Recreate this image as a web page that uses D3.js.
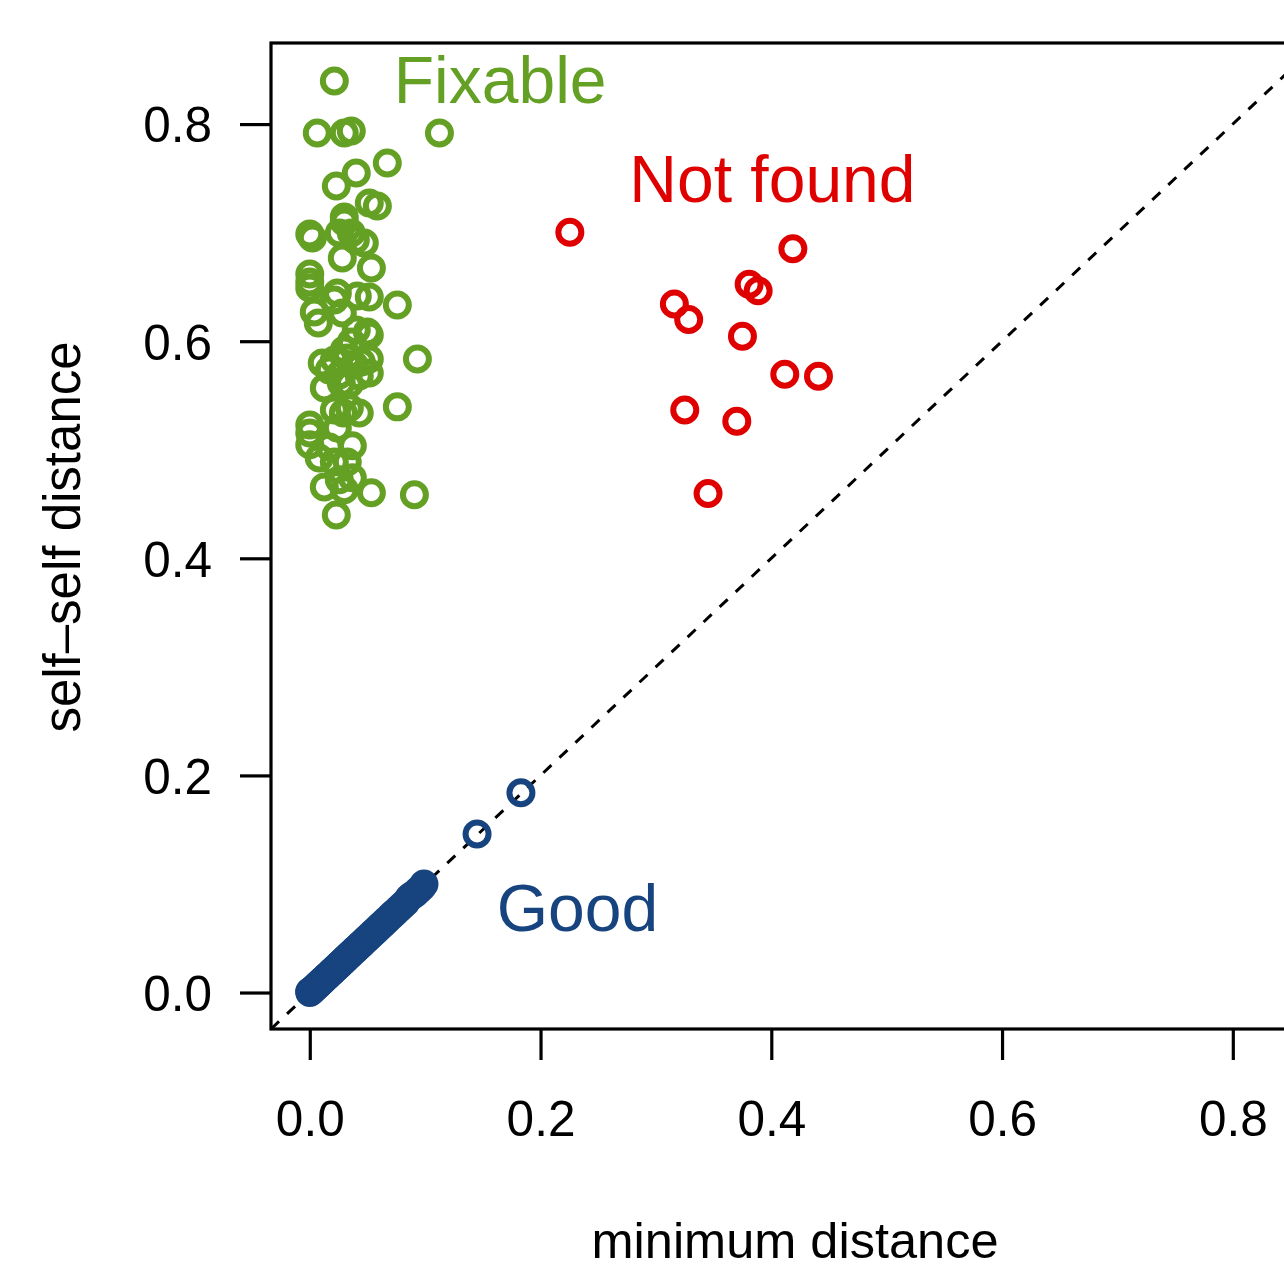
<!DOCTYPE html>
<meta charset="utf-8">
<head>
  <title>self-self vs minimum distance</title>
</head>
<style>
  body { margin: 0; background: #fff; }
  svg text { font-family: "Liberation Sans", Arial, sans-serif; fill: #000; }
</style>
<body>
  <svg width="1284" height="1272"></svg>

  <script src="https://cdnjs.cloudflare.com/ajax/libs/d3/7.8.5/d3.min.js"></script>
  <script>
    // data
    var fixableX = [0.0213, 0.0065, 0.0299, 0.0360, 0.1124, 0.0672, 0.0403, 0.0230, 0.0516, 0.0586,
      0.0299, 0.0000, 0.0022, 0.0299, 0.0256, 0.0360, 0.0473, 0.0395, 0.0282, 0.0534,
      0.0000, 0.0000, 0.0000, 0.0239, 0.0516, 0.0759, 0.0039, 0.0074, 0.0282, 0.0403,
      0.0499, 0.0360, 0.0516, 0.0933, 0.0108, 0.0213, 0.0325, 0.0516, 0.0256, 0.0516,
      0.0126, 0.0273, 0.0386, 0.0299, 0.0759, 0.0213, 0.0429, 0.0291, 0.0343, 0.0000,
      0.0000, 0.0000, 0.0239, 0.0369, 0.0213, 0.0325, 0.0126, 0.0256, 0.0369, 0.0534,
      0.0907, 0.0230, 0.0169, 0.0429, 0.0169, 0.0082, 0.0299, 0.0447, 0.0343, 0.0213,
      0.0412];
    var fixableY = [0.8396, 0.7917, 0.7917, 0.7936, 0.7917, 0.7641, 0.7549, 0.7429, 0.7273, 0.7245,
      0.7144, 0.6987, 0.6951, 0.7098, 0.6997, 0.6997, 0.6904, 0.6932, 0.6766, 0.6674,
      0.6619, 0.6545, 0.6490, 0.6444, 0.6407, 0.6334, 0.6269, 0.6168, 0.6260, 0.6104,
      0.6085, 0.5993, 0.6058, 0.5837, 0.5800, 0.5827, 0.5846, 0.5837, 0.5689, 0.5708,
      0.5570, 0.5616, 0.5781, 0.5919, 0.5395, 0.5367, 0.5339, 0.5339, 0.5386, 0.5229,
      0.5045, 0.5155, 0.5201, 0.5036, 0.4888, 0.4888, 0.4658, 0.4723, 0.4741, 0.4603,
      0.4585, 0.4400, 0.5735, 0.5680, 0.5026, 0.4925, 0.4631, 0.5809, 0.5606, 0.6380,
      0.6417];

    var notFoundX = [0.2254, 0.4187, 0.3808, 0.3886, 0.3160, 0.3284, 0.3750, 0.4117, 0.4409, 0.3250, 0.3701, 0.3452];
    var notFoundY = [0.7003, 0.6852, 0.6524, 0.6465, 0.6343, 0.6199, 0.6046, 0.5696, 0.5678, 0.5367, 0.5263, 0.4598];

    var goodX = [0.000, 0.000, 0.001, 0.002, 0.003, 0.004, 0.005, 0.006, 0.007, 0.008,
      0.009, 0.010, 0.011, 0.012, 0.014, 0.015, 0.016, 0.018, 0.019, 0.020,
      0.022, 0.023, 0.025, 0.026, 0.028, 0.029, 0.031, 0.032, 0.034, 0.035,
      0.037, 0.039, 0.040, 0.042, 0.044, 0.045, 0.047, 0.049, 0.051, 0.053,
      0.055, 0.057, 0.059, 0.061, 0.063, 0.065, 0.067, 0.070, 0.072, 0.074,
      0.077, 0.080, 0.083, 0.086, 0.088, 0.091, 0.094, 0.097, 0.099, 0.145, 0.183];
    var goodY = [0.000, 0.001, 0.001, 0.002, 0.003, 0.004, 0.005, 0.006, 0.007, 0.008,
      0.009, 0.010, 0.011, 0.012, 0.014, 0.015, 0.016, 0.018, 0.019, 0.020,
      0.022, 0.023, 0.025, 0.026, 0.028, 0.029, 0.031, 0.032, 0.034, 0.035,
      0.037, 0.039, 0.040, 0.042, 0.044, 0.045, 0.047, 0.049, 0.051, 0.053,
      0.055, 0.057, 0.059, 0.061, 0.063, 0.065, 0.067, 0.070, 0.072, 0.074,
      0.077, 0.080, 0.083, 0.087, 0.089, 0.091, 0.094, 0.097, 0.100, 0.146, 0.184];

    var tickValues = [0, 0.2, 0.4, 0.6, 0.8];
    var groupNames = ['Good', 'Fixable', 'Not found'];
    var groupColors = ['#17437f', '#63a024', '#df0000'];

    var svg = d3.select('svg');

    var x = d3.scaleLinear().domain([-0.0336, 0.8747]).range([271, 1319]);
    var y = d3.scaleLinear().domain([-0.0336, 0.8747]).range([1029, 43]);

    svg.append('clipPath').attr('id', 'plotclip')
      .append('rect')
      .attr('x', 271).attr('y', 43)
      .attr('width', 1319 - 271).attr('height', 1029 - 43);

    // y = x reference line
    svg.append('line')
      .attr('clip-path', 'url(#plotclip)')
      .attr('x1', x(-0.0336)).attr('y1', y(-0.0336))
      .attr('x2', x(0.8747)).attr('y2', y(0.8747))
      .attr('stroke', '#000')
      .attr('stroke-width', 3)
      .attr('stroke-dasharray', '11,11');

    function points(xs, ys, color) {
      var pts = xs.map(function(d, i) { return [d, ys[i]]; });
      svg.append('g')
        .selectAll('circle')
        .data(pts)
        .enter()
        .append('circle')
        .attr('cx', function(d) { return x(d[0]); })
        .attr('cy', function(d) { return y(d[1]); })
        .attr('r', 11.5)
        .attr('fill', 'none')
        .attr('stroke', color)
        .attr('stroke-width', 6);
    }

    points(goodX, goodY, groupColors[0]);
    points(fixableX, fixableY, groupColors[1]);
    points(notFoundX, notFoundY, groupColors[2]);

    // box
    svg.append('rect')
      .attr('x', 271).attr('y', 43)
      .attr('width', 1319 - 271).attr('height', 1029 - 43)
      .attr('fill', 'none')
      .attr('stroke', '#000')
      .attr('stroke-width', 3.2);

    var xAxis = svg.append('g')
      .attr('transform', 'translate(0,1029)')
      .call(d3.axisBottom(x).tickValues(tickValues).tickFormat(d3.format('.1f')).tickSize(31).tickPadding(41));
    var yAxis = svg.append('g')
      .attr('transform', 'translate(271,0)')
      .call(d3.axisLeft(y).tickValues(tickValues).tickFormat(d3.format('.1f')).tickSize(31).tickPadding(28));

    [xAxis, yAxis].forEach(function(a) {
      a.select('.domain').remove();
      a.selectAll('line').attr('stroke', '#000').attr('stroke-width', 3.2);
      a.selectAll('text')
        .attr('fill', '#000')
        .style('font-family', '"Liberation Sans", Arial, sans-serif')
        .style('font-size', '49.5px');
    });
    yAxis.selectAll('text').attr('dy', '0.36em');

    svg.append('text')
      .attr('x', 795).attr('y', 1258)
      .attr('text-anchor', 'middle')
      .style('font-size', '50.5px')
      .text('minimum distance');

    svg.append('text')
      .attr('transform', 'translate(80,537) rotate(-90)')
      .attr('text-anchor', 'middle')
      .style('font-size', '51px')
      .text('self\u2013self distance');

    // group labels
    var labelPos = [[0.232, 0.079], [0.165, 0.841], [0.401, 0.750]];
    groupNames.forEach(function(name, i) {
      svg.append('text')
        .attr('x', x(labelPos[i][0]))
        .attr('y', y(labelPos[i][1]))
        .attr('dy', '0.36em')
        .attr('text-anchor', 'middle')
        .style('font-size', '66px')
        .style('fill', groupColors[i])
        .text(name);
    });
  </script>
</body>
</html>
